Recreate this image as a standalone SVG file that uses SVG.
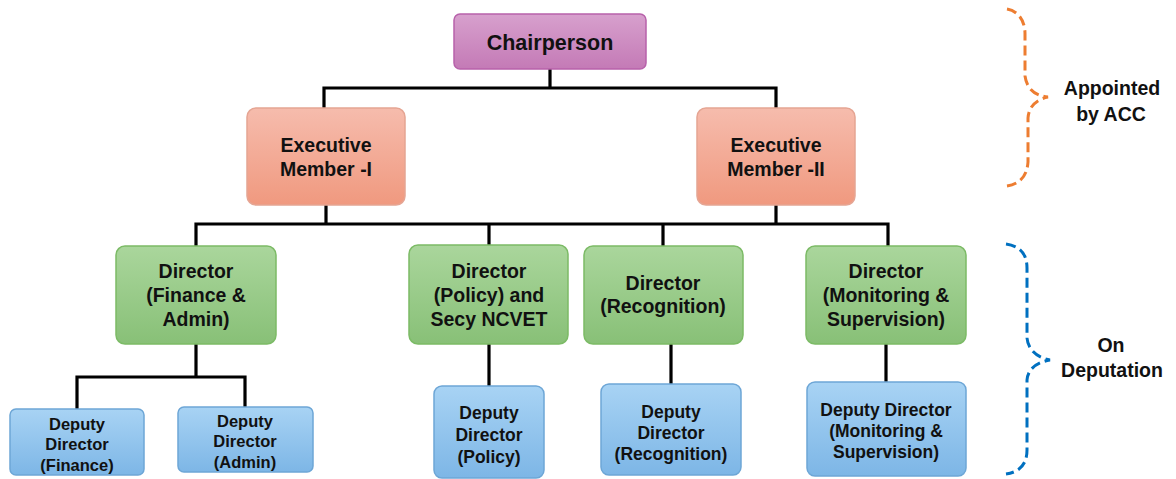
<svg xmlns="http://www.w3.org/2000/svg" width="1176" height="479" viewBox="0 0 1176 479">
<defs>
<linearGradient id="gP" x1="0" y1="0" x2="0" y2="1"><stop offset="0" stop-color="#d7a0cd"/><stop offset="1" stop-color="#c47ab6"/></linearGradient>
<linearGradient id="gO" x1="0" y1="0" x2="0" y2="1"><stop offset="0" stop-color="#f6bcad"/><stop offset="1" stop-color="#f0997f"/></linearGradient>
<linearGradient id="gG" x1="0" y1="0" x2="0" y2="1"><stop offset="0" stop-color="#aad69c"/><stop offset="1" stop-color="#88c077"/></linearGradient>
<linearGradient id="gB" x1="0" y1="0" x2="0" y2="1"><stop offset="0" stop-color="#a8d3f4"/><stop offset="1" stop-color="#7db6e6"/></linearGradient>
</defs>
<style>
text{font-family:"Liberation Sans",Arial,sans-serif;font-weight:bold;fill:#111;text-anchor:middle}
.p{fill:url(#gP);stroke:#b862ab;stroke-width:1.5}
.o{fill:url(#gO);stroke:#e5a593;stroke-width:1.5}
.g{fill:url(#gG);stroke:#7cbb66;stroke-width:1.5}
.b{fill:url(#gB);stroke:#6da6d6;stroke-width:1.5}
.c{fill:none;stroke:#000;stroke-width:3.2}
.t1{font-size:21.5px}.t2{font-size:19.5px}.t3{font-size:16.5px}.t4{font-size:17.5px}.t5{font-size:19.5px}
</style>
<g id="connectors">
<path class="c" d="M550 69V88M324 108V88H776V108"/>
<path class="c" d="M326 205V224M776 205V224M196 246V224H888V246M489 224V245M663 224V246"/>
<path class="c" d="M196 344V377M77 409V377H245V407"/>
<path class="c" d="M489 344V386M671 344V384M886 344V382"/>
</g>
<g id="chairperson"><rect class="p" x="454" y="14" width="192" height="55" rx="6"/><text class="t1" x="550" y="50">Chairperson</text></g>
<g id="exec1"><rect class="o" x="247" y="108" width="158" height="97" rx="9"/><text class="t2" x="326" y="152">Executive</text><text class="t2" x="326" y="176">Member -I</text></g>
<g id="exec2"><rect class="o" x="697" y="108" width="158" height="97" rx="9"/><text class="t2" x="776" y="152">Executive</text><text class="t2" x="776" y="176">Member -II</text></g>
<g id="dir-finance"><rect class="g" x="116" y="246" width="160" height="98" rx="9"/><text class="t2" x="196" y="278">Director</text><text class="t2" x="196" y="302">(Finance &amp;</text><text class="t2" x="196" y="326">Admin)</text></g>
<g id="dir-policy"><rect class="g" x="409" y="245" width="159" height="99" rx="9"/><text class="t2" x="489" y="278">Director</text><text class="t2" x="489" y="302">(Policy) and</text><text class="t2" x="489" y="326">Secy NCVET</text></g>
<g id="dir-recognition"><rect class="g" x="584" y="246" width="159" height="98" rx="9"/><text class="t2" x="663" y="290">Director</text><text class="t2" x="663" y="313">(Recognition)</text></g>
<g id="dir-monitoring"><rect class="g" x="806" y="246" width="160" height="98" rx="9"/><text class="t2" x="886" y="278">Director</text><text class="t2" x="886" y="302">(Monitoring &amp;</text><text class="t2" x="886" y="326">Supervision)</text></g>
<g id="dd-finance"><rect class="b" x="10" y="409" width="134" height="66" rx="6"/><text class="t3" x="77" y="430">Deputy</text><text class="t3" x="77" y="450">Director</text><text class="t3" x="77" y="471">(Finance)</text></g>
<g id="dd-admin"><rect class="b" x="178" y="407" width="135" height="65" rx="6"/><text class="t3" x="245" y="427">Deputy</text><text class="t3" x="245" y="447">Director</text><text class="t3" x="245" y="468">(Admin)</text></g>
<g id="dd-policy"><rect class="b" x="434" y="386" width="110" height="92" rx="8"/><text class="t4" x="489" y="419">Deputy</text><text class="t4" x="489" y="441">Director</text><text class="t4" x="489" y="463">(Policy)</text></g>
<g id="dd-recognition"><rect class="b" x="601" y="384" width="140" height="91" rx="8"/><text class="t4" x="671" y="418">Deputy</text><text class="t4" x="671" y="439">Director</text><text class="t4" x="671" y="460">(Recognition)</text></g>
<g id="dd-monitoring"><rect class="b" x="807" y="382" width="159" height="94" rx="8"/><text class="t4" x="886" y="416">Deputy Director</text><text class="t4" x="886" y="437">(Monitoring &amp;</text><text class="t4" x="886" y="458">Supervision)</text></g>
<g id="brace-acc">
<path d="M1007 9C1018 11 1025 20 1025 34V76C1027 90 1036 96 1048 97C1038 99 1029 105 1028 118V162C1027 176 1020 184 1007 186" fill="none" stroke="#ed7d31" stroke-width="3" stroke-dasharray="10 5"/>
<text class="t5" x="1112" y="95">Appointed</text><text class="t5" x="1111" y="121">by ACC</text>
</g>
<g id="brace-deputation">
<path d="M1006 244C1020 246 1027 254 1027 268V338C1028 350 1038 358 1050 360C1038 362 1028 368 1027 380V450C1027 464 1020 472 1006 474" fill="none" stroke="#0070c0" stroke-width="3" stroke-dasharray="10 5"/>
<text class="t5" x="1111" y="352">On</text><text class="t5" x="1112" y="377">Deputation</text>
</g>
</svg>
